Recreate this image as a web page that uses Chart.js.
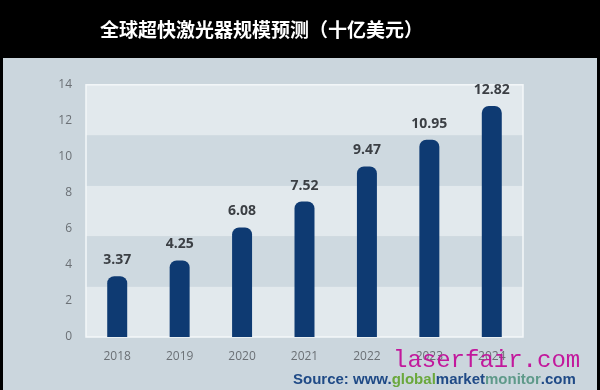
<!DOCTYPE html>
<html>
<head>
<meta charset="UTF-8">
<title>全球超快激光器规模预测</title>
<script src="https://cdn.jsdelivr.net/npm/chart.js@4"></script>
<style>
  html, body { margin: 0; padding: 0; background: #000; }
  #wrap { width: 600px; height: 390px; }
</style>
</head>
<body>
<div id="wrap"><canvas id="myChart" width="600" height="390"></canvas></div>
<script>
// 데이터
const years = ['2018', '2019', '2020', '2021', '2022', '2023', '2024'];
const marketSize = [3.37, 4.25, 6.08, 7.52, 9.47, 10.95, 12.82];
const yTicks = [0, 2, 4, 6, 8, 10, 12, 14];
const bandEdges = [0, 2.8, 5.6, 8.4, 11.2, 14];

const titleText = '全球超快激光器规模预测（十亿美元）';
const sourceParts = [
    { text: 'Source: www.', color: '#1f4a86' },
    { text: 'global', color: '#6aa83c' },
    { text: 'market', color: '#1f4a86' },
    { text: 'monitor', color: '#5f9a8a' },
    { text: '.com', color: '#1f4a86' }
];
const watermark = 'laserfair.com';

// 배경 + 밴드
const backgroundPlugin = {
    id: 'backgroundPlugin',
    beforeDraw(chart) {
        const ctx = chart.ctx;
        const area = chart.chartArea;
        const y = chart.scales.y;
        ctx.save();
        ctx.fillStyle = '#000';
        ctx.fillRect(0, 0, chart.width, chart.height);
        ctx.fillStyle = '#cbd6dd';
        ctx.fillRect(3, 58, 594, 332);
        for (let i = 0; i < bandEdges.length - 1; i++) {
            const top = y.getPixelForValue(bandEdges[i + 1]);
            const bottom = y.getPixelForValue(bandEdges[i]);
            ctx.fillStyle = i % 2 === 0 ? '#e2e9ed' : '#ced9e0';
            ctx.fillRect(area.left, top, area.right - area.left, bottom - top);
        }
        ctx.strokeStyle = '#f4f7f9';
        ctx.lineWidth = 1.5;
        ctx.strokeRect(area.left, area.top, area.right - area.left, area.bottom - area.top);
        ctx.restore();
    }
};

// 값 라벨 + 출처
const labelPlugin = {
    id: 'labelPlugin',
    afterDatasetsDraw(chart) {
        const ctx = chart.ctx;
        const meta = chart.getDatasetMeta(0);
        ctx.save();
        ctx.font = 'bold 14px "Open Sans", sans-serif';
        ctx.fillStyle = '#3b3f44';
        ctx.textAlign = 'center';
        ctx.textBaseline = 'middle';
        meta.data.forEach((bar, i) => {
            ctx.fillText(marketSize[i].toFixed(2), bar.x, bar.y - 16);
        });

        ctx.textAlign = 'left';
        ctx.font = 'bold 15px "Liberation Sans", Arial, sans-serif';
        let x = 293;
        sourceParts.forEach(p => {
            ctx.fillStyle = p.color;
            ctx.fillText(p.text, x, 380);
            x += ctx.measureText(p.text).width;
        });

        ctx.font = '24px "Liberation Mono", monospace';
        ctx.fillStyle = '#c2189c';
        ctx.textBaseline = 'alphabetic';
        ctx.fillText(watermark, 393, 367);
        ctx.restore();
    }
};

const canvas = document.getElementById('myChart');
const myChart = new Chart(canvas, {
    type: 'bar',
    data: {
        labels: years,
        datasets: [{
            label: '十亿美元',
            data: marketSize,
            backgroundColor: '#0e3a72',
            borderRadius: { topLeft: 7, topRight: 7 },
            borderSkipped: 'bottom',
            barPercentage: 0.32,
            categoryPercentage: 1
        }]
    },
    options: {
        responsive: false,
        animation: false,
        layout: { padding: { left: 0, right: 77, top: 0, bottom: 0 } },
        plugins: {
            legend: { display: false },
            tooltip: { enabled: false },
            title: {
                display: true,
                text: titleText,
                color: '#ffffff',
                font: { family: '"Noto Sans CJK SC", sans-serif', size: 19, weight: 'bold', lineHeight: 1.2 },
                padding: { top: 18, bottom: 44 }
            }
        },
        scales: {
            x: {
                grid: { display: false, drawTicks: false },
                border: { display: false },
                ticks: { color: '#6b7075', font: { family: '"Open Sans", sans-serif', size: 12 }, padding: 12 },
                afterFit(axis) { axis.height = 53; }
            },
            y: {
                min: 0,
                max: 14,
                grid: { display: false, drawTicks: false },
                border: { display: false },
                afterBuildTicks(axis) { axis.ticks = yTicks.map(v => ({ value: v })); },
                ticks: { color: '#6b7075', font: { family: '"Open Sans", sans-serif', size: 12 }, padding: 14 },
                afterFit(axis) { axis.width = 86; }
            }
        }
    },
    plugins: [backgroundPlugin, labelPlugin]
});
</script>
</body>
</html>
